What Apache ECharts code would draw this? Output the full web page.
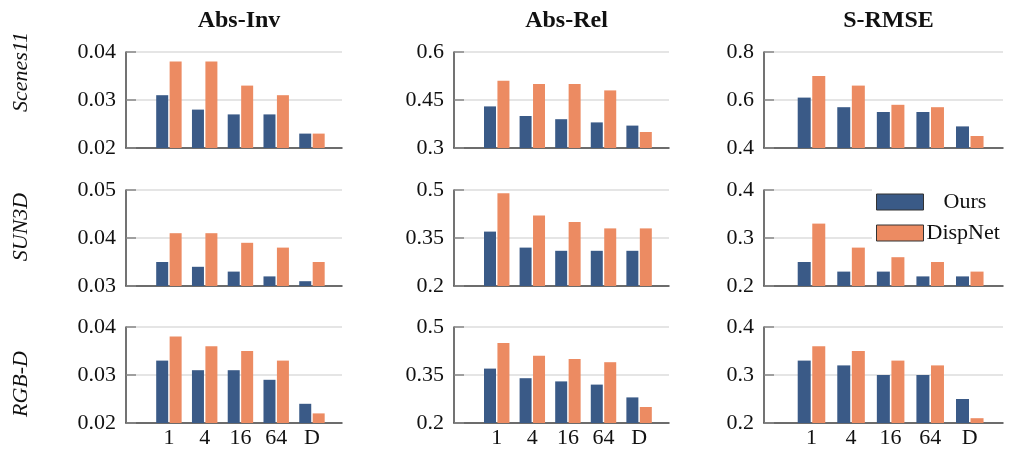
<!DOCTYPE html>
<html>
<head>
<meta charset="utf-8">
<script src="https://cdn.jsdelivr.net/npm/echarts@6/dist/echarts.min.js"></script>
<style>
  html, body { margin: 0; padding: 0; background: #fff; }
  #chart { width: 1010px; height: 450px; }
</style>
</head>
<body>
<div id="chart"></div>
<script>
const categories = ["1", "4", "16", "64", "D"];
const colTitles = ["Abs-Inv", "Abs-Rel", "S-RMSE"];
const rowTitles = ["Scenes11", "SUN3D", "RGB-D"];
const seriesNames = ["Ours", "DispNet"];

// tick labels per panel (row by row)
const yTicks = [
  [0.02, 0.03, 0.04], [0.3, 0.45, 0.6], [0.4, 0.6, 0.8],
  [0.03, 0.04, 0.05], [0.2, 0.35, 0.5], [0.2, 0.3, 0.4],
  [0.02, 0.03, 0.04], [0.2, 0.35, 0.5], [0.2, 0.3, 0.4],
];

// Ours
const oursValues = [
  [0.031, 0.028, 0.027, 0.027, 0.023], [0.43, 0.40, 0.39, 0.38, 0.37], [0.61, 0.57, 0.55, 0.55, 0.49],
  [0.035, 0.034, 0.033, 0.032, 0.031], [0.37, 0.32, 0.31, 0.31, 0.31], [0.25, 0.23, 0.23, 0.22, 0.22],
  [0.033, 0.031, 0.031, 0.029, 0.024], [0.37, 0.34, 0.33, 0.32, 0.28], [0.33, 0.32, 0.30, 0.30, 0.25],
];
// DispNet
const dispnetValues = [
  [0.038, 0.038, 0.033, 0.031, 0.023], [0.51, 0.50, 0.50, 0.48, 0.35], [0.70, 0.66, 0.58, 0.57, 0.45],
  [0.041, 0.041, 0.039, 0.038, 0.035], [0.49, 0.42, 0.40, 0.38, 0.38], [0.33, 0.28, 0.26, 0.25, 0.23],
  [0.038, 0.036, 0.035, 0.033, 0.022], [0.45, 0.41, 0.40, 0.39, 0.25], [0.36, 0.35, 0.33, 0.32, 0.21],
];

const colLeft = [126, 454, 764];
const colWidth = [216, 215, 239];
const colBar = [12, 12, 13];
const rowTop = [52, 190, 327];
const rowHeight = 96;
const rowLabelY = [72, 227, 384];
const font = "Liberation Serif";
const blue = "#3a5a87";
const orange = "#ec8b62";

const grid = [], xAxis = [], yAxis = [], series = [], title = [], graphic = [];

for (let r = 0; r < 3; r++) {
  for (let c = 0; c < 3; c++) {
    const i = r * 3 + c;
    const ticks = yTicks[i];
    grid.push({ left: colLeft[c], top: rowTop[r], width: colWidth[c], height: rowHeight });
    xAxis.push({
      type: "value",
      gridIndex: i,
      min: -1.2,
      max: 4.84,
      axisLine: { show: true, onZero: false, lineStyle: { color: "#444", width: 1.5 } },
      axisTick: { show: false },
      splitLine: { show: false },
      axisLabel: {
        show: r === 2,
        customValues: [0, 1, 2, 3, 4],
        formatter: (v) => categories[Math.round(v)],
        fontFamily: font,
        fontSize: 22,
        color: "#111",
        margin: 4,
      },
    });
    yAxis.push({
      type: "value",
      gridIndex: i,
      min: ticks[0],
      max: ticks[ticks.length - 1],
      axisLine: { show: true, onZero: false, lineStyle: { color: "#444", width: 1.5 } },
      axisTick: {
        show: true,
        inside: true,
        length: 10,
        customValues: ticks,
        lineStyle: { color: "#888", width: 1.5 },
      },
      splitLine: { show: true, lineStyle: { color: "#dcdcdc", width: 1.5 } },
      axisLabel: {
        customValues: ticks,
        formatter: (v) => String(+v.toFixed(3)),
        fontFamily: font,
        fontSize: 22,
        color: "#111",
        margin: 10,
      },
    });
    [oursValues, dispnetValues].forEach((vals, s) => {
      series.push({
        type: "bar",
        name: seriesNames[s],
        xAxisIndex: i,
        yAxisIndex: i,
        barWidth: colBar[c],
        barGap: "12%",
        itemStyle: { color: s === 0 ? blue : orange },
        data: vals[i].map((v, k) => [k, v]),
      });
    });
  }
}

colTitles.forEach((t, c) => {
  title.push({
    text: t,
    left: colLeft[c] + colWidth[c] / 2,
    top: 4,
    textAlign: "center",
    textStyle: { fontFamily: font, fontWeight: "bold", fontSize: 24, color: "#111" },
  });
});

rowTitles.forEach((t, r) => {
  graphic.push({
    type: "text",
    x: 21,
    y: rowLabelY[r],
    rotation: Math.PI / 2,
    style: {
      text: t,
      font: "italic 22px '" + font + "'",
      fill: "#111",
      align: "center",
      verticalAlign: "middle",
    },
  });
});

const chart = echarts.init(document.getElementById("chart"));
chart.setOption({
  animation: false,
  title,
  grid,
  xAxis,
  yAxis,
  series,
  graphic,
  legend: {
    data: seriesNames,
    orient: "vertical",
    left: 872,
    top: 188,
    padding: [3, 4, 3, 4],
    backgroundColor: "#fff",
    itemWidth: 47,
    itemHeight: 16,
    itemGap: 9,
    icon: "rect",
    itemStyle: { borderColor: "#333", borderWidth: 1 },
    formatter: (name) => (name === "Ours" ? "{pad|" + name + "}" : name),
    textStyle: {
      fontFamily: font,
      fontSize: 22,
      color: "#111",
      padding: [0, 0, 0, -2],
      rich: { pad: { fontFamily: font, fontSize: 22, color: "#111", padding: [0, 0, 0, 17] } },
    },
  },
});
</script>
</body>
</html>
